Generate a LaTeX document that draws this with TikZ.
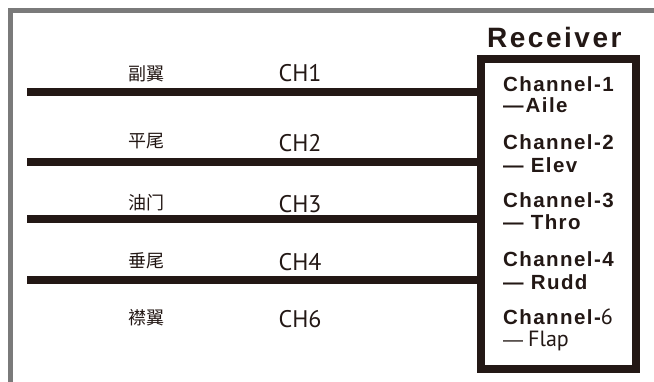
\documentclass[tikz,border=0pt]{standalone}
\usepackage{fontspec}
\setmainfont{Liberation Sans}
\newfontfamily\titlefont{Liberation Sans}[LetterSpace=9]
\newfontfamily\recfont{Liberation Sans}[LetterSpace=7]
\newfontfamily\chfont{PT Sans}
\newfontfamily\cjk{Noto Sans CJK SC}
\definecolor{ink}{HTML}{231815}
\definecolor{framegray}{HTML}{7A7A7A}
\tikzset{
  wire/.style={draw=ink, line width=8pt},
  rxbox/.style={draw=ink, line width=8pt, fill=white, inner sep=0pt},
  cjklabel/.style={anchor=base, inner sep=0pt, text=ink, font=\cjk\fontsize{18}{18}\selectfont},
  chlabel/.style={anchor=base, inner sep=0pt, text=ink, font=\chfont\fontsize{24}{24}\selectfont},
  rxlabel/.style={anchor=base west, inner sep=0pt, text=ink, font=\recfont\bfseries\fontsize{20.5}{20.5}\selectfont},
  rxtitle/.style={anchor=base west, inner sep=0pt, text=ink, font=\titlefont\bfseries\fontsize{28}{28}\selectfont}
}
\begin{document}
\begin{tikzpicture}[x=1pt,y=-1pt]
\useasboundingbox (0,0) rectangle (654,382);
% frame
\draw[framegray, line width=5pt, line join=miter] (10.5,382) -- (10.5,10.5) -- (654,10.5);
% receiver box
\node[rxbox, minimum width=154.5pt, minimum height=310pt] (rx) at (558.25,214) {};
\node[rxtitle] (rtitle) at (487,48) {Receiver};
% wires
\coordinate (s1) at (27,92);
\coordinate (s2) at (27,162);
\coordinate (s3) at (27,219);
\coordinate (s4) at (27,280);
\draw[wire] (s1) -- (s1 -| rx.west);
\draw[wire] (s2) -- (s2 -| rx.west);
\draw[wire] (s3) -- (s3 -| rx.west);
\draw[wire] (s4) -- (s4 -| rx.west);
% left labels
\node[cjklabel] (c1) at (146.5,81) {副翼};
\node[cjklabel] (c2) at (146.5,148) {平尾};
\node[cjklabel] (c3) at (146.5,210) {油门};
\node[cjklabel] (c4) at (146.5,268) {垂尾};
\node[cjklabel] (c6) at (146.5,325) {襟翼};
\node[chlabel] (h1) at (300,82) {CH1};
\node[chlabel] (h2) at (300,152) {CH2};
\node[chlabel] (h3) at (300,213) {CH3};
\node[chlabel] (h4) at (300,271) {CH4};
\node[chlabel] (h6) at (300,328) {CH6};
% receiver labels
\node[rxlabel] (r1a) at (503,92) {Channel-1};
\node[rxlabel] (r1b) at (503,113) {—\hspace{2pt}Aile};
\node[rxlabel] (r2a) at (503,150) {Channel-2};
\node[rxlabel] (r2b) at (503,173) {— Elev};
\node[rxlabel] (r3a) at (503,208) {Channel-3};
\node[rxlabel] (r3b) at (503,230) {— Thro};
\node[rxlabel] (r4a) at (503,267) {Channel-4};
\node[rxlabel] (r4b) at (503,290) {— Rudd};
\node[rxlabel] (r6a) at (503,325) {Channel-{\chfont\mdseries\fontsize{22}{22}\selectfont 6}};
\node[rxlabel, font=\chfont\fontsize{22}{22}\selectfont] (r6b) at (503,347) {{\rmfamily\fontsize{20}{20}\selectfont —}\hspace{5pt}Flap};
\end{tikzpicture}
\end{document}
